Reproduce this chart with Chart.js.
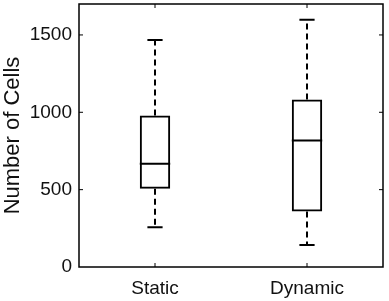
<!DOCTYPE html>
<html>
<head>
<meta charset="utf-8">
<script src="https://cdn.jsdelivr.net/npm/chart.js@4.4.1/dist/chart.umd.min.js"></script>
<style>
  html, body { margin: 0; padding: 0; background: #fff; }
  #wrap { width: 389px; height: 301px; }
</style>
</head>
<body>
<div id="wrap"><canvas id="boxChart"></canvas></div>
<script>
const categories = ["Static", "Dynamic"];
const whiskerLow = [257, 143];
const q1 = [505, 358];
const median = [667, 817];
const q3 = [979, 1082];
const whiskerHigh = [1468, 1599];
const yTicks = [0, 500, 1000, 1500];

const FONT = "'Liberation Sans', Arial, sans-serif";
const CAP_FRAC = 0.5; // cap width relative to box width

// whiskers, medians, frame and inward ticks
const boxExtras = {
    id: "boxExtras",
    afterDatasetsDraw(chart) {
        const ctx = chart.ctx;
        const xs = chart.scales.x;
        const ys = chart.scales.y;
        const area = chart.chartArea;
        const meta = chart.getDatasetMeta(0);
        ctx.save();
        ctx.strokeStyle = "#000";
        categories.forEach((c, i) => {
            const bar = meta.data[i];
            const cx = xs.getPixelForValue(i);
            const half = bar.width / 2;
            const capHalf = half * CAP_FRAC;
            // dashed whiskers
            ctx.lineWidth = 2;
            ctx.setLineDash([6, 4]);
            ctx.beginPath();
            ctx.moveTo(cx, ys.getPixelForValue(q3[i]));
            ctx.lineTo(cx, ys.getPixelForValue(whiskerHigh[i]));
            ctx.moveTo(cx, ys.getPixelForValue(q1[i]));
            ctx.lineTo(cx, ys.getPixelForValue(whiskerLow[i]));
            ctx.stroke();
            ctx.setLineDash([]);
            // caps
            ctx.beginPath();
            const yh = ys.getPixelForValue(whiskerHigh[i]);
            const yl = ys.getPixelForValue(whiskerLow[i]);
            ctx.moveTo(cx - capHalf, yh); ctx.lineTo(cx + capHalf, yh);
            ctx.moveTo(cx - capHalf, yl); ctx.lineTo(cx + capHalf, yl);
            // median
            const ym = ys.getPixelForValue(median[i]);
            ctx.moveTo(cx - half, ym); ctx.lineTo(cx + half, ym);
            ctx.stroke();
        });
        // frame
        ctx.lineWidth = 1.5;
        ctx.strokeRect(area.left, area.top, area.right - area.left, area.bottom - area.top);
        // inward ticks
        ctx.lineWidth = 1;
        const tl = 4;
        ctx.beginPath();
        yTicks.forEach(v => {
            if (v === 0) return;
            const y = ys.getPixelForValue(v);
            ctx.moveTo(area.left, y); ctx.lineTo(area.left + tl, y);
            ctx.moveTo(area.right, y); ctx.lineTo(area.right - tl, y);
        });
        categories.forEach((c, i) => {
            const x = xs.getPixelForValue(i);
            ctx.moveTo(x, area.bottom); ctx.lineTo(x, area.bottom - tl);
            ctx.moveTo(x, area.top); ctx.lineTo(x, area.top + tl);
        });
        ctx.stroke();
        ctx.restore();
    }
};

new Chart(document.getElementById("boxChart"), {
    type: "bar",
    data: {
        labels: categories,
        datasets: [{
            data: categories.map((c, i) => [q1[i], q3[i]]),
            backgroundColor: "rgba(0,0,0,0)",
            borderColor: "#000",
            borderWidth: 2,
            borderSkipped: false,
            categoryPercentage: 1,
            barPercentage: 0.2
        }]
    },
    options: {
        responsive: true,
        maintainAspectRatio: false,
        animation: false,
        events: [],
        layout: { padding: { left: 0, right: 6, top: 4, bottom: 0 } },
        plugins: { legend: { display: false }, tooltip: { enabled: false } },
        scales: {
            x: {
                grid: { display: false, drawTicks: false },
                border: { display: false },
                ticks: { color: "#111", padding: 10, font: { family: FONT, size: 19 } },
                afterFit: (s) => { s.height = 34; s.paddingLeft = 0; s.paddingRight = 0; }
            },
            y: {
                min: 0,
                max: 1700,
                grid: { display: false, drawTicks: false },
                border: { display: false },
                afterBuildTicks: (s) => { s.ticks = yTicks.map(v => ({ value: v })); },
                ticks: {
                    color: "#111",
                    padding: 7,
                    font: { family: FONT, size: 19 },
                    callback: (v) => String(v)
                },
                title: {
                    display: true,
                    text: "Number of Cells",
                    color: "#111",
                    padding: 0,
                    font: { family: FONT, size: 22 }
                },
                afterFit: (s) => { s.width = 79; s.paddingTop = 0; s.paddingBottom = 0; }
            }
        }
    },
    plugins: [boxExtras]
});
</script>
</body>
</html>
